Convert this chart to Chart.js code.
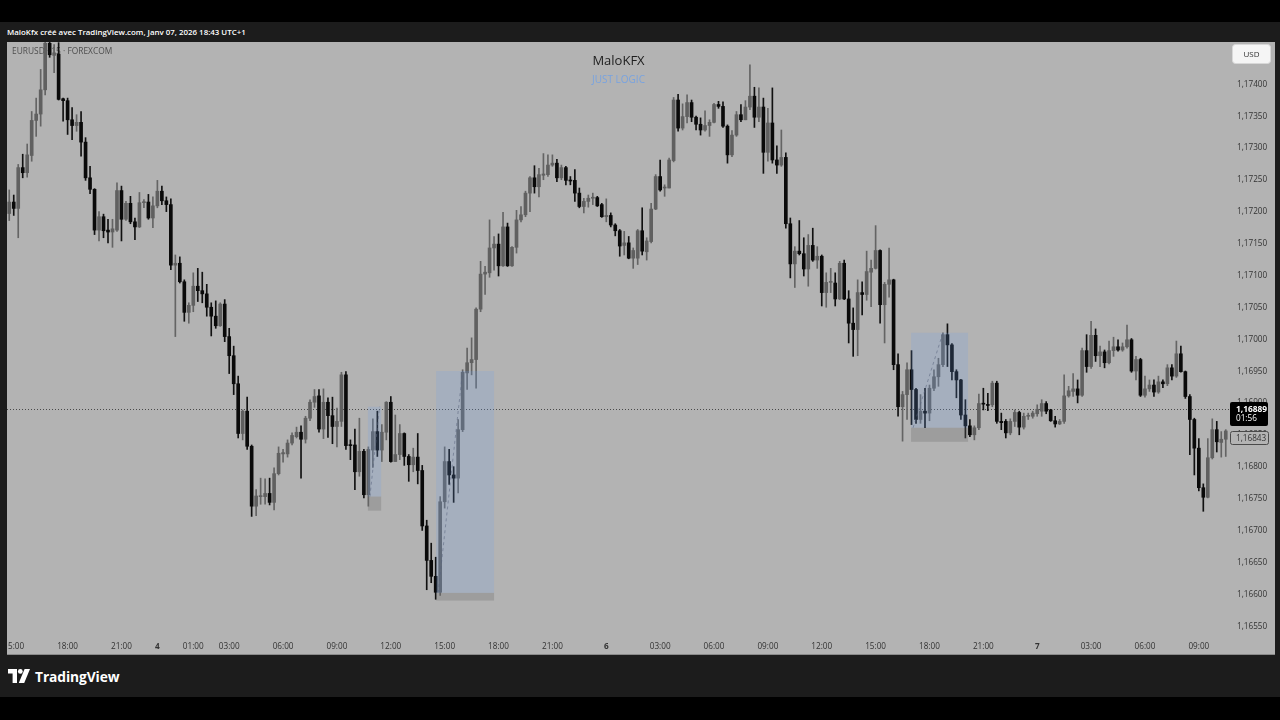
<!DOCTYPE html>
<html>
<head>
<meta charset="utf-8">
<script src="https://cdn.jsdelivr.net/npm/chart.js@4.4.1/dist/chart.umd.min.js"></script>
<style>
  html, body { margin: 0; padding: 0; width: 1280px; height: 720px; overflow: hidden; background: #000; font-family: 'Open Sans', sans-serif; }
  #frame { position: absolute; left: 0; top: 22px; width: 1280px; height: 675px; background: #1c1c1c; }
  #caption { position: absolute; left: 7px; top: 27px; color: #fff; font-size: 7.9px; font-weight: 600; white-space: nowrap; }
  #wrap { position: absolute; left: 7px; top: 42px; width: 1268px; height: 613px; background: #b3b3b3; }
  #baseline { position: absolute; left: 7px; top: 654px; width: 1268px; height: 1px; background: #8a8a8a; }
  #brand { position: absolute; left: 8px; top: 667px; height: 18px; display: flex; align-items: center; color: #fff; }
  #brand span { font-size: 13.8px; font-weight: 700; margin-left: 5px; letter-spacing: -0.1px; }
  canvas { display: block; }
</style>
</head>
<body>
<div id="frame"></div>
<div id="caption">MaloKfx créé avec TradingView.com, Janv 07, 2026 18:43 UTC+1</div>
<div id="wrap"><canvas id="chart" width="1268" height="613"></canvas></div>
<div id="baseline"></div>
<div id="brand">
  <svg width="22" height="14" viewBox="0 0 22 14">
    <path d="M0 0H9V14H4.6V4.6H0Z" fill="#fff"/>
    <circle cx="12.3" cy="2.4" r="2.4" fill="#fff"/>
    <path d="M16.6 0H22L16.2 14H10.8Z" fill="#fff"/>
  </svg>
  <span>TradingView</span>
</div>
<script>
// EURUSD 15m candles
const opens = [
  1.17195,1.17213,1.17203,1.17267,1.17259,1.17286,1.17341,1.17351,1.17389,1.17462,
  1.17443,1.17445,1.17375,1.17372,1.17342,1.17333,1.17338,1.17307,1.17251,1.17233,
  1.17169,1.17190,1.17169,1.17166,1.17169,1.17231,1.17186,1.17211,1.17182,1.17174,
  1.17212,1.17213,1.17188,1.17207,1.17230,1.17215,1.17209,1.17114,1.17117,1.17088,
  1.17040,1.17051,1.17081,1.17074,1.17069,1.17048,1.17034,1.17019,1.17053,1.17002,
  1.16972,1.16928,1.16850,1.16885,1.16830,1.16736,1.16751,1.16751,1.16756,1.16742,
  1.16787,1.16818,1.16818,1.16835,1.16845,1.16852,1.16841,1.16874,1.16899,1.16909,
  1.16857,1.16899,1.16878,1.16861,1.16869,1.16942,1.16832,1.16832,1.16790,1.16822,
  1.16754,1.16824,1.16853,1.16824,1.16852,1.16899,1.16806,1.16817,1.16850,1.16814,
  1.16801,1.16813,1.16792,1.16705,1.16651,1.16626,1.16601,1.16743,1.16806,1.16785,
  1.16780,1.16856,1.16945,1.16961,1.16966,1.17045,1.17100,1.17102,1.17141,1.17147,
  1.17113,1.17174,1.17113,1.17142,1.17185,1.17193,1.17227,1.17251,1.17237,1.17255,
  1.17256,1.17271,1.17274,1.17251,1.17267,1.17247,1.17247,1.17227,1.17206,1.17214,
  1.17219,1.17220,1.17209,1.17190,1.17192,1.17177,1.17168,1.17145,1.17149,1.17125,
  1.17125,1.17168,1.17135,1.17151,1.17202,1.17253,1.17235,1.17235,1.17278,1.17373,
  1.17329,1.17347,1.17369,1.17346,1.17335,1.17326,1.17333,1.17338,1.17366,1.17363,
  1.17332,1.17287,1.17318,1.17350,1.17342,1.17362,1.17379,1.17346,1.17362,1.17291,
  1.17337,1.17279,1.17271,1.17283,1.17179,1.17116,1.17136,1.17132,1.17108,1.17145,
  1.17122,1.17128,1.17071,1.17087,1.17086,1.17061,1.17117,1.17061,1.17023,1.17013,
  1.17071,1.17068,1.17103,1.17109,1.17137,1.17052,1.17084,1.17091,1.16958,1.16892,
  1.16911,1.16950,1.16919,1.16872,1.16885,1.16882,1.16921,1.16939,1.16958,1.17005,
  1.16989,1.16947,1.16934,1.16879,1.16862,1.16848,1.16859,1.16897,1.16895,1.16895,
  1.16929,1.16869,1.16869,1.16851,1.16869,1.16883,1.16860,1.16877,1.16877,1.16881,
  1.16885,1.16897,1.16887,1.16870,1.16865,1.16869,1.16909,1.16916,1.16920,1.16910,
  1.16980,1.16955,1.17004,1.16972,1.16978,1.16961,1.16980,1.16986,1.16981,1.16986,
  1.16997,1.16948,1.16966,1.16910,1.16920,1.16926,1.16915,1.16931,1.16928,1.16953,
  1.16940,1.16975,1.16947,1.16908,1.16872,1.16827,1.16765,1.16750,1.16812,1.16856,
  1.16836,1.16841
];
const highs = [
  1.17232,1.17224,1.17272,1.17288,1.17304,1.17355,1.17376,1.17421,1.17480,1.17480,
  1.17460,1.17463,1.17376,1.17376,1.17361,1.17350,1.17355,1.17314,1.17269,1.17234,
  1.17198,1.17194,1.17186,1.17186,1.17243,1.17238,1.17214,1.17222,1.17188,1.17228,
  1.17217,1.17225,1.17221,1.17247,1.17238,1.17221,1.17218,1.17130,1.17127,1.17091,
  1.17055,1.17102,1.17109,1.17103,1.17084,1.17055,1.17058,1.17055,1.17060,1.17015,
  1.16987,1.16940,1.16887,1.16907,1.16832,1.16762,1.16780,1.16779,1.16780,1.16796,
  1.16829,1.16825,1.16840,1.16851,1.16860,1.16862,1.16877,1.16903,1.16919,1.16919,
  1.16920,1.16906,1.16907,1.16890,1.16946,1.16947,1.16840,1.16857,1.16874,1.16825,
  1.16829,1.16873,1.16885,1.16864,1.16900,1.16908,1.16879,1.16864,1.16851,1.16817,
  1.16827,1.16850,1.16800,1.16714,1.16678,1.16656,1.16751,1.16829,1.16825,1.16798,
  1.16872,1.16950,1.16984,1.17000,1.17047,1.17120,1.17112,1.17185,1.17159,1.17163,
  1.17197,1.17180,1.17143,1.17200,1.17206,1.17230,1.17253,1.17270,1.17266,1.17289,
  1.17287,1.17287,1.17280,1.17271,1.17269,1.17253,1.17264,1.17235,1.17219,1.17224,
  1.17227,1.17222,1.17211,1.17218,1.17196,1.17179,1.17170,1.17167,1.17159,1.17141,
  1.17170,1.17204,1.17157,1.17211,1.17256,1.17279,1.17240,1.17282,1.17377,1.17382,
  1.17367,1.17381,1.17373,1.17348,1.17345,1.17356,1.17342,1.17368,1.17371,1.17370,
  1.17334,1.17325,1.17355,1.17366,1.17372,1.17428,1.17393,1.17392,1.17376,1.17360,
  1.17392,1.17301,1.17326,1.17290,1.17188,1.17143,1.17184,1.17157,1.17162,1.17172,
  1.17143,1.17130,1.17102,1.17109,1.17102,1.17120,1.17122,1.17074,1.17047,1.17091,
  1.17088,1.17136,1.17122,1.17176,1.17138,1.17087,1.17141,1.17092,1.16975,1.16916,
  1.16961,1.16980,1.16921,1.16911,1.16921,1.16926,1.16950,1.16968,1.17008,1.17022,
  1.16991,1.16950,1.16935,1.16903,1.16872,1.16862,1.16912,1.16921,1.16913,1.16932,
  1.16932,1.16882,1.16872,1.16873,1.16887,1.16885,1.16882,1.16882,1.16885,1.16895,
  1.16903,1.16900,1.16888,1.16877,1.16872,1.16942,1.16924,1.16944,1.16934,1.16984,
  1.17005,1.17026,1.17014,1.16987,1.16981,1.16995,1.17001,1.16997,1.16992,1.17020,
  1.16999,1.16971,1.16968,1.16940,1.16934,1.16934,1.16940,1.16934,1.16958,1.16958,
  1.16995,1.16987,1.16948,1.16911,1.16874,1.16842,1.16771,1.16842,1.16873,1.16869,
  1.16853,1.16856
];
const lows = [
  1.17184,1.17192,1.17157,1.17251,1.17252,1.17277,1.17316,1.17332,1.17381,1.17440,
  1.17416,1.17373,1.17340,1.17319,1.17311,1.17324,1.17285,1.17247,1.17226,1.17162,
  1.17152,1.17157,1.17149,1.17142,1.17167,1.17152,1.17184,1.17179,1.17154,1.17173,
  1.17204,1.17186,1.17173,1.17204,1.17209,1.17198,1.17107,1.17002,1.17086,1.17026,
  1.17023,1.17041,1.17057,1.17055,1.17034,1.17003,1.17015,1.17018,1.16994,1.16944,
  1.16911,1.16843,1.16840,1.16825,1.16720,1.16721,1.16739,1.16739,1.16738,1.16730,
  1.16785,1.16805,1.16813,1.16832,1.16843,1.16780,1.16835,1.16870,1.16891,1.16852,
  1.16842,1.16844,1.16834,1.16829,1.16861,1.16825,1.16809,1.16762,1.16783,1.16749,
  1.16736,1.16797,1.16814,1.16806,1.16840,1.16805,1.16806,1.16809,1.16800,1.16775,
  1.16790,1.16771,1.16698,1.16605,1.16616,1.16590,1.16596,1.16733,1.16770,1.16742,
  1.16757,1.16853,1.16919,1.16942,1.16921,1.17041,1.17068,1.17095,1.17106,1.17097,
  1.17112,1.17112,1.17112,1.17133,1.17182,1.17190,1.17198,1.17227,1.17221,1.17248,
  1.17253,1.17269,1.17245,1.17248,1.17240,1.17240,1.17214,1.17204,1.17196,1.17205,
  1.17209,1.17206,1.17189,1.17182,1.17174,1.17160,1.17128,1.17130,1.17124,1.17109,
  1.17115,1.17130,1.17122,1.17149,1.17201,1.17230,1.17222,1.17235,1.17276,1.17324,
  1.17326,1.17337,1.17339,1.17326,1.17318,1.17324,1.17316,1.17337,1.17360,1.17330,
  1.17274,1.17284,1.17316,1.17339,1.17342,1.17358,1.17330,1.17339,1.17258,1.17277,
  1.17274,1.17258,1.17269,1.17172,1.17094,1.17079,1.17130,1.17097,1.17081,1.17120,
  1.17109,1.17050,1.17048,1.17071,1.17050,1.17060,1.17060,1.16992,1.16971,1.16972,
  1.17036,1.17059,1.17049,1.17108,1.17023,1.16992,1.17064,1.16950,1.16877,1.16838,
  1.16872,1.16864,1.16866,1.16866,1.16859,1.16870,1.16917,1.16924,1.16955,1.16955,
  1.16934,1.16906,1.16872,1.16843,1.16845,1.16840,1.16856,1.16887,1.16886,1.16892,
  1.16866,1.16856,1.16843,1.16848,1.16861,1.16848,1.16857,1.16872,1.16874,1.16877,
  1.16877,1.16881,1.16869,1.16860,1.16864,1.16866,1.16907,1.16908,1.16898,1.16908,
  1.16946,1.16952,1.16963,1.16955,1.16953,1.16959,1.16971,1.16979,1.16979,1.16984,
  1.16946,1.16934,1.16908,1.16907,1.16916,1.16908,1.16913,1.16922,1.16925,1.16934,
  1.16938,1.16946,1.16905,1.16817,1.16785,1.16760,1.16728,1.16749,1.16810,1.16821,
  1.16813,1.16814
];
const closes = [
  1.17213,1.17203,1.17267,1.17259,1.17287,1.17341,1.17351,1.17389,1.17462,1.17444,
  1.17447,1.17374,1.17372,1.17342,1.17333,1.17338,1.17307,1.17251,1.17233,1.17169,
  1.17190,1.17168,1.17166,1.17171,1.17231,1.17186,1.17211,1.17182,1.17174,1.17212,
  1.17213,1.17188,1.17207,1.17230,1.17215,1.17209,1.17114,1.17117,1.17088,1.17040,
  1.17051,1.17081,1.17074,1.17069,1.17048,1.17034,1.17019,1.17053,1.17002,1.16972,
  1.16928,1.16850,1.16885,1.16830,1.16736,1.16752,1.16752,1.16756,1.16742,1.16787,
  1.16819,1.16820,1.16835,1.16847,1.16852,1.16841,1.16874,1.16899,1.16908,1.16857,
  1.16899,1.16878,1.16861,1.16869,1.16942,1.16831,1.16831,1.16790,1.16822,1.16754,
  1.16825,1.16853,1.16824,1.16852,1.16899,1.16806,1.16817,1.16850,1.16814,1.16801,
  1.16813,1.16792,1.16705,1.16651,1.16626,1.16601,1.16743,1.16806,1.16785,1.16780,
  1.16856,1.16946,1.16961,1.16966,1.17045,1.17100,1.17103,1.17141,1.17147,1.17113,
  1.17174,1.17113,1.17142,1.17185,1.17193,1.17227,1.17251,1.17237,1.17256,1.17257,
  1.17271,1.17274,1.17251,1.17267,1.17247,1.17246,1.17227,1.17206,1.17214,1.17219,
  1.17220,1.17207,1.17190,1.17192,1.17177,1.17168,1.17144,1.17149,1.17125,1.17137,
  1.17168,1.17136,1.17152,1.17202,1.17253,1.17232,1.17236,1.17279,1.17373,1.17329,
  1.17347,1.17369,1.17346,1.17335,1.17326,1.17333,1.17338,1.17366,1.17363,1.17332,
  1.17287,1.17318,1.17350,1.17342,1.17362,1.17379,1.17346,1.17362,1.17291,1.17337,
  1.17279,1.17271,1.17283,1.17179,1.17116,1.17136,1.17132,1.17108,1.17145,1.17122,
  1.17128,1.17071,1.17087,1.17088,1.17061,1.17117,1.17061,1.17023,1.17013,1.17071,
  1.17068,1.17104,1.17109,1.17137,1.17052,1.17084,1.17091,1.16958,1.16892,1.16911,
  1.16950,1.16919,1.16872,1.16885,1.16882,1.16921,1.16939,1.16958,1.17005,1.16989,
  1.16947,1.16934,1.16879,1.16862,1.16848,1.16859,1.16897,1.16896,1.16894,1.16929,
  1.16869,1.16867,1.16851,1.16869,1.16883,1.16860,1.16877,1.16878,1.16882,1.16888,
  1.16897,1.16885,1.16870,1.16865,1.16869,1.16909,1.16917,1.16920,1.16910,1.16980,
  1.16955,1.17004,1.16972,1.16978,1.16961,1.16980,1.16986,1.16981,1.16986,1.16997,
  1.16948,1.16966,1.16910,1.16920,1.16926,1.16915,1.16931,1.16928,1.16953,1.16940,
  1.16975,1.16947,1.16908,1.16872,1.16827,1.16765,1.16750,1.16812,1.16856,1.16837,
  1.16841,1.16854
];

// time axis: which bars carry a visible label, and what it says
const axisTickBars = [1, 13, 25, 33, 41, 49, 61, 73, 85, 97, 109, 121, 133, 145, 157, 169, 181, 193, 205, 217, 229, 241, 253, 265];
const axisTickText = ['15:00', '18:00', '21:00', '4', '01:00', '03:00', '06:00', '09:00', '12:00', '15:00', '18:00', '21:00',
                      '6', '03:00', '06:00', '09:00', '12:00', '15:00', '18:00', '21:00', '7', '03:00', '06:00', '09:00'];
const priceTicks = [1.1655, 1.1660, 1.1665, 1.1670, 1.1675, 1.1680, 1.1685, 1.1690, 1.1695,
                    1.1700, 1.1705, 1.1710, 1.1715, 1.1720, 1.1725, 1.1730, 1.1735, 1.1740];

const lastPrice = 1.16889;
const countdown = '01:56';
const markerPrice = 1.16843;

// long-position zones: bar span, target top, entry, stop
const zoneStart = [79.9, 95.1, 200.9];
const zoneEnd = [82.85, 108.0, 213.6];
const zoneTop = [1.16892, 1.16948, 1.17008];
const zoneEntry = [1.16751, 1.16600, 1.16859];
const zoneStop = [1.16729, 1.16588, 1.16837];
const zoneHitBar = [82.5, 101, 208];

const UP_BODY = '#606060', DOWN_BODY = '#0a0a0a';
const UP_WICK = '#646464', DOWN_WICK = '#111111';
const FONT = "'Open Sans', sans-serif";

// one label per 15-minute bar; Friday session ends 22:45, Sunday reopens 23:00
const barTimes = [];
for (let i = 0; i < opens.length; i++) {
  const t = i < 33 ? new Date(Date.UTC(2026, 0, 2, 14, 45) + i * 900000)
                   : new Date(Date.UTC(2026, 0, 4, 23, 0) + (i - 33) * 900000);
  barTimes.push(t.toISOString().slice(5, 16).replace('T', ' '));
}
const dayBars = axisTickBars.filter((b, k) => /^\d$/.test(axisTickText[k]));
const isUp = i => closes[i] >= opens[i];

const fmtPrice = v => v.toFixed(5).replace('.', ',');

const overlay = {
  id: 'overlay',
  beforeDatasetsDraw(chart) {
    const { ctx, chartArea: a, scales: { y } } = chart;
    ctx.save();
    ctx.textBaseline = 'middle';
    ctx.textAlign = 'left';
    ctx.font = `8.4px ${FONT}`;
    ctx.fillStyle = '#4e4e4e';
    ctx.fillText('EURUSD · 15 · FOREXCOM', 5, 10);

    ctx.textAlign = 'center';
    ctx.font = `13px ${FONT}`;
    ctx.fillStyle = '#1e1e1e';
    ctx.fillText('MaloKFX', 611.5, 19.5);
    ctx.font = `10px ${FONT}`;
    ctx.fillStyle = '#78a3e0';
    ctx.fillText('JUST LOGIC', 611.5, 38.5);

    const py = Math.round(y.getPixelForValue(lastPrice)) + 0.5;
    ctx.strokeStyle = '#4a4a4a';
    ctx.lineWidth = 1;
    ctx.setLineDash([1, 2]);
    ctx.beginPath();
    ctx.moveTo(a.left, py);
    ctx.lineTo(a.right + 2, py);
    ctx.stroke();
    ctx.restore();
  },
  afterDatasetsDraw(chart) {
    const { ctx, scales: { x, y } } = chart;
    ctx.save();
    for (let k = 0; k < zoneStart.length; k++) {
      const x0 = x.getPixelForValue(zoneStart[k]);
      const x1 = x.getPixelForValue(zoneEnd[k]);
      const yt = y.getPixelForValue(zoneTop[k]);
      const ye = y.getPixelForValue(zoneEntry[k]);
      const ys = y.getPixelForValue(zoneStop[k]);
      ctx.fillStyle = 'rgba(110,160,235,0.2)';
      ctx.fillRect(x0, yt, x1 - x0, ye - yt);
      ctx.fillStyle = 'rgba(105,105,105,0.3)';
      ctx.fillRect(x0, ye, x1 - x0, ys - ye);
      ctx.strokeStyle = 'rgba(90,100,125,0.55)';
      ctx.setLineDash([3, 3]);
      ctx.beginPath();
      ctx.moveTo(x0 + 2, ye);
      ctx.lineTo(x.getPixelForValue(zoneHitBar[k]), yt);
      ctx.stroke();
    }
    ctx.restore();
  },
  afterDraw(chart) {
    const { ctx, scales: { y } } = chart;
    ctx.save();
    ctx.textBaseline = 'middle';

    // currency button
    ctx.fillStyle = '#f5f5f5';
    ctx.strokeStyle = '#d8d8d8';
    ctx.beginPath();
    ctx.roundRect(1225.5, 2.5, 38, 19, 3);
    ctx.fill();
    ctx.stroke();
    ctx.fillStyle = '#333';
    ctx.textAlign = 'center';
    ctx.font = `8px ${FONT}`;
    ctx.fillText('USD', 1244.5, 12.5);

    // marker label
    const ym = y.getPixelForValue(markerPrice);
    ctx.fillStyle = '#b3b3b3';
    ctx.strokeStyle = '#4a4a4a';
    ctx.beginPath();
    ctx.roundRect(1223.5, Math.round(ym) - 6.5, 38, 13, 2);
    ctx.fill();
    ctx.stroke();
    ctx.fillStyle = '#333';
    ctx.textAlign = 'left';
    ctx.font = `8.2px ${FONT}`;
    ctx.fillText(fmtPrice(markerPrice), 1229, ym + 0.5);

    // last price label
    const yp = y.getPixelForValue(lastPrice);
    ctx.fillStyle = '#000';
    ctx.beginPath();
    ctx.roundRect(1223, Math.round(yp) - 7, 38, 24, 2);
    ctx.fill();
    ctx.fillStyle = '#fff';
    ctx.font = `bold 8.4px ${FONT}`;
    ctx.fillText(fmtPrice(lastPrice), 1229, yp + 0.5);
    ctx.font = `8.2px ${FONT}`;
    ctx.fillText(countdown, 1229, yp + 10.5);
    ctx.restore();
  }
};

new Chart(document.getElementById('chart'), {
  type: 'bar',
  data: {
    labels: barTimes,
    datasets: [
      {
        label: 'body',
        data: opens.map((o, i) => [o, closes[i]]),
        backgroundColor: c => (c.dataIndex === undefined || isUp(c.dataIndex)) ? UP_BODY : DOWN_BODY,
        borderWidth: 0,
        barThickness: 3,
        minBarLength: 1,
        grouped: false,
        order: 1
      },
      {
        label: 'wick',
        data: lows.map((l, i) => [l, highs[i]]),
        backgroundColor: c => (c.dataIndex === undefined || isUp(c.dataIndex)) ? UP_WICK : DOWN_WICK,
        borderWidth: 0,
        barThickness: 1,
        grouped: false,
        order: 2
      }
    ]
  },
  options: {
    responsive: false,
    animation: false,
    devicePixelRatio: 1,
    layout: { padding: 0 },
    plugins: { legend: { display: false }, tooltip: { enabled: false } },
    scales: {
      x: {
        type: 'category',
        offset: true,
        grid: { display: false, drawTicks: false },
        border: { display: false },
        ticks: {
          autoSkip: false,
          maxRotation: 0,
          minRotation: 0,
          padding: 7,
          color: '#333',
          font: c => ({ family: FONT, size: 8.2, weight: dayBars.includes(c.index) ? 'bold' : 'normal' }),
          callback: (v, i) => {
            const k = axisTickBars.indexOf(i);
            return k >= 0 ? axisTickText[k] : '';
          }
        },
        afterFit: s => { s.height = 20; s.paddingLeft = 0; s.paddingRight = 0; }
      },
      y: {
        position: 'right',
        min: 1.16534,
        max: 1.17464,
        grid: { display: false, drawTicks: false },
        border: { display: false },
        afterBuildTicks: s => { s.ticks = priceTicks.map(v => ({ value: v })); },
        ticks: {
          padding: 9,
          labelOffset: 1.5,
          color: '#333',
          font: { family: FONT, size: 8.2 },
          callback: v => fmtPrice(v)
        },
        afterFit: s => { s.width = 47; s.paddingTop = 0; s.paddingBottom = 0; }
      }
    }
  },
  plugins: [overlay]
});
</script>
</body>
</html>
